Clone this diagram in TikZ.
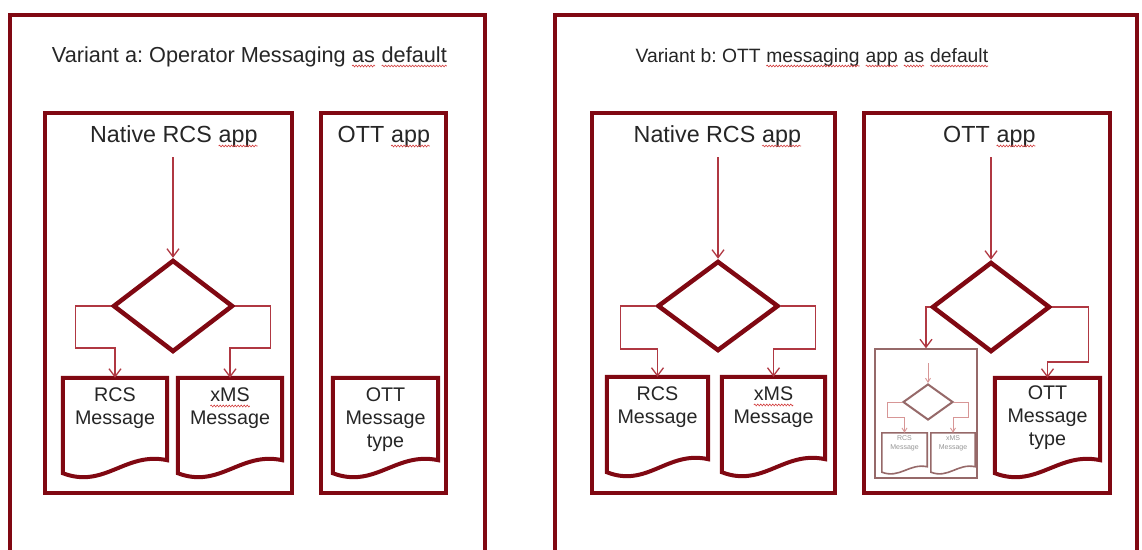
\documentclass[tikz,border=0pt]{standalone}
\usepackage{fontspec}
\setmainfont{Liberation Sans}
\usetikzlibrary{shapes.geometric,arrows.meta,calc,decorations.pathmorphing}
\frenchspacing
\definecolor{bcol}{RGB}{128,8,18}
\definecolor{lcol}{RGB}{176,56,66}
\definecolor{tcol}{RGB}{38,38,38}
\definecolor{scol}{RGB}{210,60,60}
\definecolor{mcol}{RGB}{150,105,105}
\definecolor{mlcol}{RGB}{215,150,150}
\definecolor{mtcol}{RGB}{150,150,150}
\newcommand{\sq}[1]{\tikz[baseline=(w.base)]{\node[inner sep=0pt,outer sep=0pt,anchor=base] (w) {#1};\draw[scol,line width=0.6pt,decorate,decoration={snake,segment length=3pt,amplitude=0.9pt}] ([yshift=-4pt]w.base west) -- ([yshift=-4pt]w.base east);}}
\newcommand{\docframe}[3]{\draw[#1] (#2.north west) -- (#2.north east) -- ($(#2.south east)+(0,-13*#3)$) .. controls ($(#2.south west)!0.6!(#2.south east)+(0,-22*#3)$) and ($(#2.south west)!0.4!(#2.south east)+(0,16*#3)$) .. (#2.south west) -- cycle;}
\tikzset{every picture/.style={x=1pt,y=-1pt}}
\tikzset{frame/.style={draw=bcol,line width=4pt,inner sep=0pt}}
\tikzset{choice/.style={diamond,draw=bcol,line width=4.5pt,inner sep=0pt,minimum width=120,minimum height=92}}
\tikzset{doc/.style={inner sep=0pt,minimum width=104,minimum height=95}}
\tikzset{docline/.style={draw=bcol,line width=4pt}}
\tikzset{flow/.style={draw=lcol,line width=1.3pt,-{Straight Barb[length=8pt,width=12pt]}}}
\tikzset{heading/.style={text=tcol,font=\fontsize{21.7}{26}\selectfont,anchor=base}}
\tikzset{apptitle/.style={text=tcol,font=\fontsize{23.3}{28}\selectfont,anchor=base}}
\tikzset{msg/.style={text=tcol,font=\fontsize{19.7}{23}\selectfont,align=center,anchor=north,inner sep=0pt}}
\tikzset{minibox/.style={draw=mcol,line width=1.4pt,inner sep=0pt}}
\tikzset{minichoice/.style={diamond,draw=mcol,line width=2pt,inner sep=0pt,minimum width=50,minimum height=36}}
\tikzset{minidoc/.style={inner sep=0pt,minimum width=45,minimum height=39}}
\tikzset{minidocline/.style={draw=mcol,line width=1.6pt}}
\tikzset{miniflow/.style={draw=mlcol,line width=0.9pt,-{Straight Barb[length=4pt,width=5pt]}}}
\tikzset{minimsg/.style={text=mtcol,font=\fontsize{7}{9}\selectfont,align=center,anchor=north,inner sep=0pt}}

\begin{document}
\begin{tikzpicture}
\useasboundingbox (0,0) rectangle (1142,549);
\fill [white] (0,0) rectangle (1142,549);
\clip (0,0) rectangle (1142,549);
\node [frame,minimum width=475,minimum height=590] (varA) at (247.5,310) {};
\node [frame,minimum width=582,minimum height=590] (varB) at (846,310) {};
\node [heading] (titleA) at (249.5,62) {Variant a: Operator Messaging \sq{as} \sq{default}};
\node [heading,font=\fontsize{19.3}{23}\selectfont] (titleB) at (812,62) {Variant b: OTT \sq{messaging} \sq{app} \sq{as} \sq{default}};

\node [frame,minimum width=247,minimum height=380] (natA) at (168.5,303) {};
\node [frame,minimum width=125,minimum height=380] (ottA) at (383.5,303) {};
\node [frame,minimum width=243,minimum height=380] (natB) at (713.5,303) {};
\node [frame,minimum width=246,minimum height=380] (ottB) at (987,303) {};
\node [apptitle] (natAt) at (174,142) {Native RCS \sq{app}};
\node [apptitle] (ottAt) at (384,142) {OTT \sq{app}};
\node [apptitle] (natBt) at (717.5,142) {Native RCS \sq{app}};
\node [apptitle] (ottBt) at (989.5,142) {OTT \sq{app}};

\coordinate (inA) at (173,157);
\node [choice] (dA) at (173,306) {};
\draw [flow] (inA) -- (dA.north);
\node [doc] (rcsA) at (115,425.5) {};
\node [doc] (xmsA) at (230,425.5) {};
\node [doc,minimum width=105] (ottmA) at (385.5,425.5) {};
\docframe{docline}{rcsA}{1}
\docframe{docline}{xmsA}{1}
\docframe{docline}{ottmA}{1}
\node [msg] (rcsAt) at (115,388) {RCS\\Message};
\node [msg] (xmsAt) at (230,388) {\sq{xMS}\\Message};
\node [msg] (ottmAt) at (385.5,388) {OTT\\Message\\type};
\draw [flow] (dA.west) -| ++(-35,42) -| (rcsA.north);
\draw [flow] (dA.east) -| ++(35,42) -| (xmsA.north);

\coordinate (inB) at (718,157);
\node [choice,minimum width=121,minimum height=90] (dB) at (718,306) {};
\draw [flow] (inB) -- (dB.north);
\node [doc,minimum width=101] (rcsB) at (657.5,424.5) {};
\node [doc,minimum width=103] (xmsB) at (773.5,424.5) {};
\docframe{docline}{rcsB}{1}
\docframe{docline}{xmsB}{1}
\node [msg] (rcsBt) at (657.5,387) {RCS\\Message};
\node [msg] (xmsBt) at (773.5,387) {\sq{xMS}\\Message};
\draw [flow] (dB.west) -| ++(-35,43) -| (rcsB.north);
\draw [flow] (dB.east) -| ++(35,43) -| (xmsB.north);

\coordinate (inO) at (991,157);
\node [choice,minimum width=118,minimum height=90] (dO) at (991,307) {};
\draw [flow] (inO) -- (dO.north);
\node [doc,minimum width=105] (ottmB) at (1047.5,425.5) {};
\docframe{docline}{ottmB}{1}
\node [msg] (ottmBt) at (1047.5,386) {OTT\\Message\\type};
\node [minibox,minimum width=102,minimum height=129] (miniB) at (926,413.5) {};
\draw [flow] (dO.west) -| (miniB.north);
\draw [flow] (dO.east) -| ++(36,55) -| (ottmB.north);

\coordinate (minIn) at (928,363);
\node [minichoice] (mdB) at (928,402) {};
\draw [miniflow] (minIn) -- (mdB.north);
\node [minidoc] (mrcsB) at (904.5,452.5) {};
\node [minidoc,minimum width=44] (mxmsB) at (953,452.5) {};
\docframe{minidocline}{mrcsB}{0.42}
\docframe{minidocline}{mxmsB}{0.42}
\node [minimsg] (mrcsBt) at (904.5,435) {RCS\\Message};
\node [minimsg] (mxmsBt) at (953,435) {xMS\\Message};
\draw [miniflow] (mdB.west) -| ++(-15,15) -| (mrcsB.north);
\draw [miniflow] (mdB.east) -| ++(14,15) -| (mxmsB.north);
\end{tikzpicture}
\end{document}
